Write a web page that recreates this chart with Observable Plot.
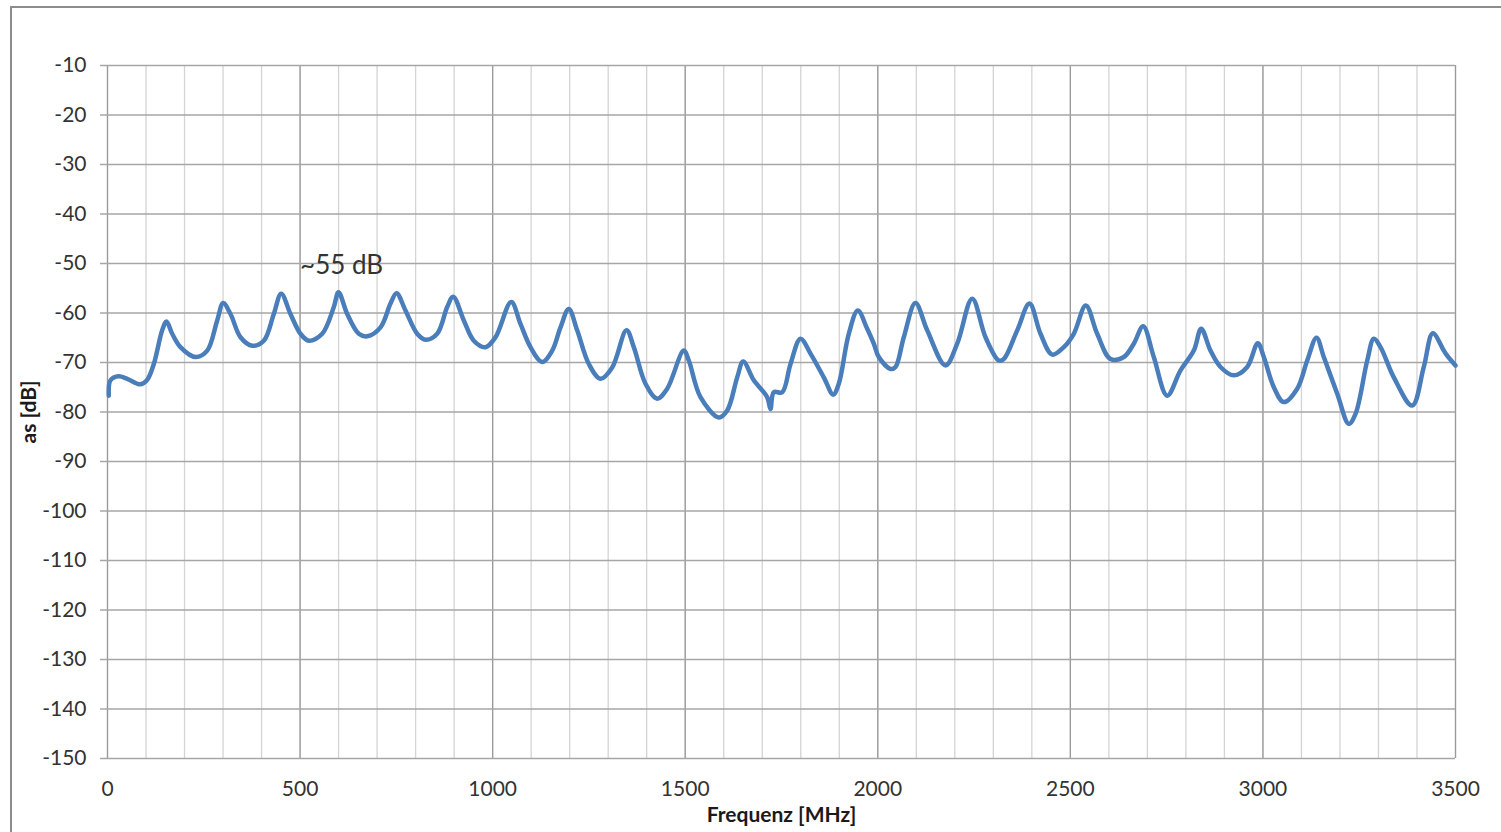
<!DOCTYPE html>
<html>
<head>
<meta charset="utf-8">
<script src="https://cdn.jsdelivr.net/npm/d3@7"></script>
<script src="https://cdn.jsdelivr.net/npm/@observablehq/plot@0.6"></script>
<style>
  html, body { margin: 0; padding: 0; background: #ffffff; }
  #wrap { position: relative; width: 1501px; height: 832px; overflow: hidden; }
  #frame { position: absolute; left: 10px; top: 6px; width: 1500px; height: 840px; border: 2px solid #8c8c8c; box-sizing: border-box; }
  #chart { position: absolute; left: 0; top: 0; }
  #chart g[aria-label="x-axis label"] text, #chart g[aria-label="y-axis label"] text { font-weight: bold; fill: #1a1a1a; font-size: 21px; }
</style>
</head>
<body>
<div id="wrap"><div id="frame"></div><div id="chart"></div></div>
<script>
// Frequency in MHz
const freq = [3.4, 7.8, 29.3, 51.2, 85.7, 103.1, 120.2, 142.0, 153.2, 168.0, 189.5, 228.5, 258.9, 284.8, 300.4, 319.4, 345.4, 375.7, 405.8, 431.8, 451.0, 475.1, 501.1, 522.7, 557.5, 587.6, 599.8, 622.4, 652.5, 674.3, 708.8, 734.8, 750.4, 773.7, 804.1, 825.7, 856.0, 882.0, 897.6, 925.1, 951.1, 981.4, 1007.4, 1048.2, 1072.3, 1098.3, 1128.7, 1154.6, 1176.2, 1197.7, 1219.5, 1249.7, 1280.0, 1310.4, 1347.6, 1366.5, 1396.9, 1427.3, 1453.2, 1496.3, 1509.3, 1539.7, 1587.2, 1609.0, 1635.0, 1650.6, 1678.1, 1712.9, 1721.4, 1730.0, 1751.8, 1773.4, 1799.4, 1825.3, 1859.8, 1884.2, 1898.8, 1924.7, 1948.1, 1972.5, 1989.6, 2002.6, 2033.0, 2046.0, 2067.5, 2097.9, 2128.3, 2175.8, 2206.2, 2245.2, 2279.7, 2314.2, 2327.2, 2362.0, 2393.9, 2422.5, 2452.9, 2483.0, 2508.9, 2540.1, 2569.7, 2604.2, 2638.8, 2664.7, 2689.1, 2716.6, 2751.4, 2786.0, 2820.5, 2839.7, 2863.9, 2889.8, 2924.4, 2959.2, 2986.7, 3002.3, 3028.3, 3054.3, 3089.0, 3115.0, 3139.1, 3158.1, 3192.9, 3223.0, 3240.4, 3270.8, 3287.9, 3305.3, 3339.8, 3387.6, 3417.7, 3441.1, 3469.7, 3478.5, 3500];
// Attenuation in dB
const atten = [-76.7, -73.6, -72.8, -73.3, -74.4, -73.5, -70.3, -63.5, -61.7, -64.2, -66.9, -68.9, -67.6, -61.5, -58.0, -60.2, -64.9, -66.6, -65.6, -60.2, -56.1, -60.2, -64.2, -65.6, -64.2, -58.8, -55.8, -60.2, -64.2, -64.7, -62.9, -58.1, -56.0, -59.5, -64.2, -65.4, -64.2, -58.8, -56.7, -61.5, -65.6, -66.9, -64.9, -57.8, -62.2, -66.9, -69.9, -67.6, -62.9, -59.2, -63.5, -70.3, -73.3, -71.0, -63.5, -66.9, -74.3, -77.3, -75.3, -67.6, -69.6, -77.0, -81.1, -79.7, -73.0, -69.8, -73.6, -77.0, -79.4, -76.0, -76.0, -70.3, -65.2, -68.2, -73.0, -76.5, -74.3, -64.2, -59.5, -63.2, -66.2, -68.9, -71.3, -70.9, -64.9, -58.0, -63.5, -70.6, -66.2, -57.1, -64.9, -69.6, -69.3, -63.5, -58.1, -64.2, -68.4, -66.9, -64.2, -58.5, -64.2, -69.3, -68.9, -66.2, -62.7, -68.9, -76.7, -71.6, -67.6, -63.2, -67.6, -70.9, -72.6, -70.9, -66.1, -68.9, -75.0, -78.0, -75.3, -69.6, -65.0, -68.9, -76.3, -82.4, -80.4, -69.6, -65.2, -66.9, -73.0, -78.7, -70.9, -64.1, -67.6, -68.6, -70.6];

const xMajorTicks = [0, 500, 1000, 1500, 2000, 2500, 3000, 3500];
const xMinorTicks = d3.range(0, 3501, 100);
const yTicks = d3.range(-150, -9, 10);
const annotation = [{f: 500, v: -50.4, label: "~55 dB"}];

const data = freq.map((f, i) => ({f, v: atten[i]}));

const chart = Plot.plot({
  width: 1501,
  height: 832,
  marginLeft: 107,
  marginRight: 46,
  marginTop: 65,
  marginBottom: 74,
  style: {fontFamily: "Lato, sans-serif", fontSize: "21px", color: "#333", background: "transparent"},
  x: {domain: [0, 3500]},
  y: {domain: [-150, -10]},
  marks: [
    Plot.ruleX(xMinorTicks, {stroke: "#d4d4d4", strokeWidth: 1.3}),
    Plot.ruleX(xMajorTicks, {stroke: "#9a9a9a", strokeWidth: 1.3}),
    Plot.ruleY(yTicks, {x1: -18, x2: 3500, stroke: "#a6a6a6", strokeWidth: 1.3, clip: false}),
    Plot.axisX({ticks: xMajorTicks, tickSize: 0, tickPadding: 23, tickFormat: d => String(d), label: "Frequenz [MHz]", labelAnchor: "center", labelArrow: "none", labelOffset: 63}),
    Plot.axisY({ticks: yTicks, tickSize: 0, tickPadding: 21, tickFormat: d => String(d), label: "as [dB]", labelAnchor: "center", labelArrow: "none", labelOffset: 86}),
    Plot.line(data, {x: "f", y: "v", stroke: "#4a7ebb", strokeWidth: 4.5, strokeLinejoin: "round", strokeLinecap: "round", curve: "catmull-rom"}),
    Plot.text(annotation, {x: "f", y: "v", text: "label", textAnchor: "start", fontSize: 26, fill: "#333", fontFamily: "Lato, sans-serif"})
  ]
});
document.getElementById("chart").appendChild(chart);
</script>
</body>
</html>
